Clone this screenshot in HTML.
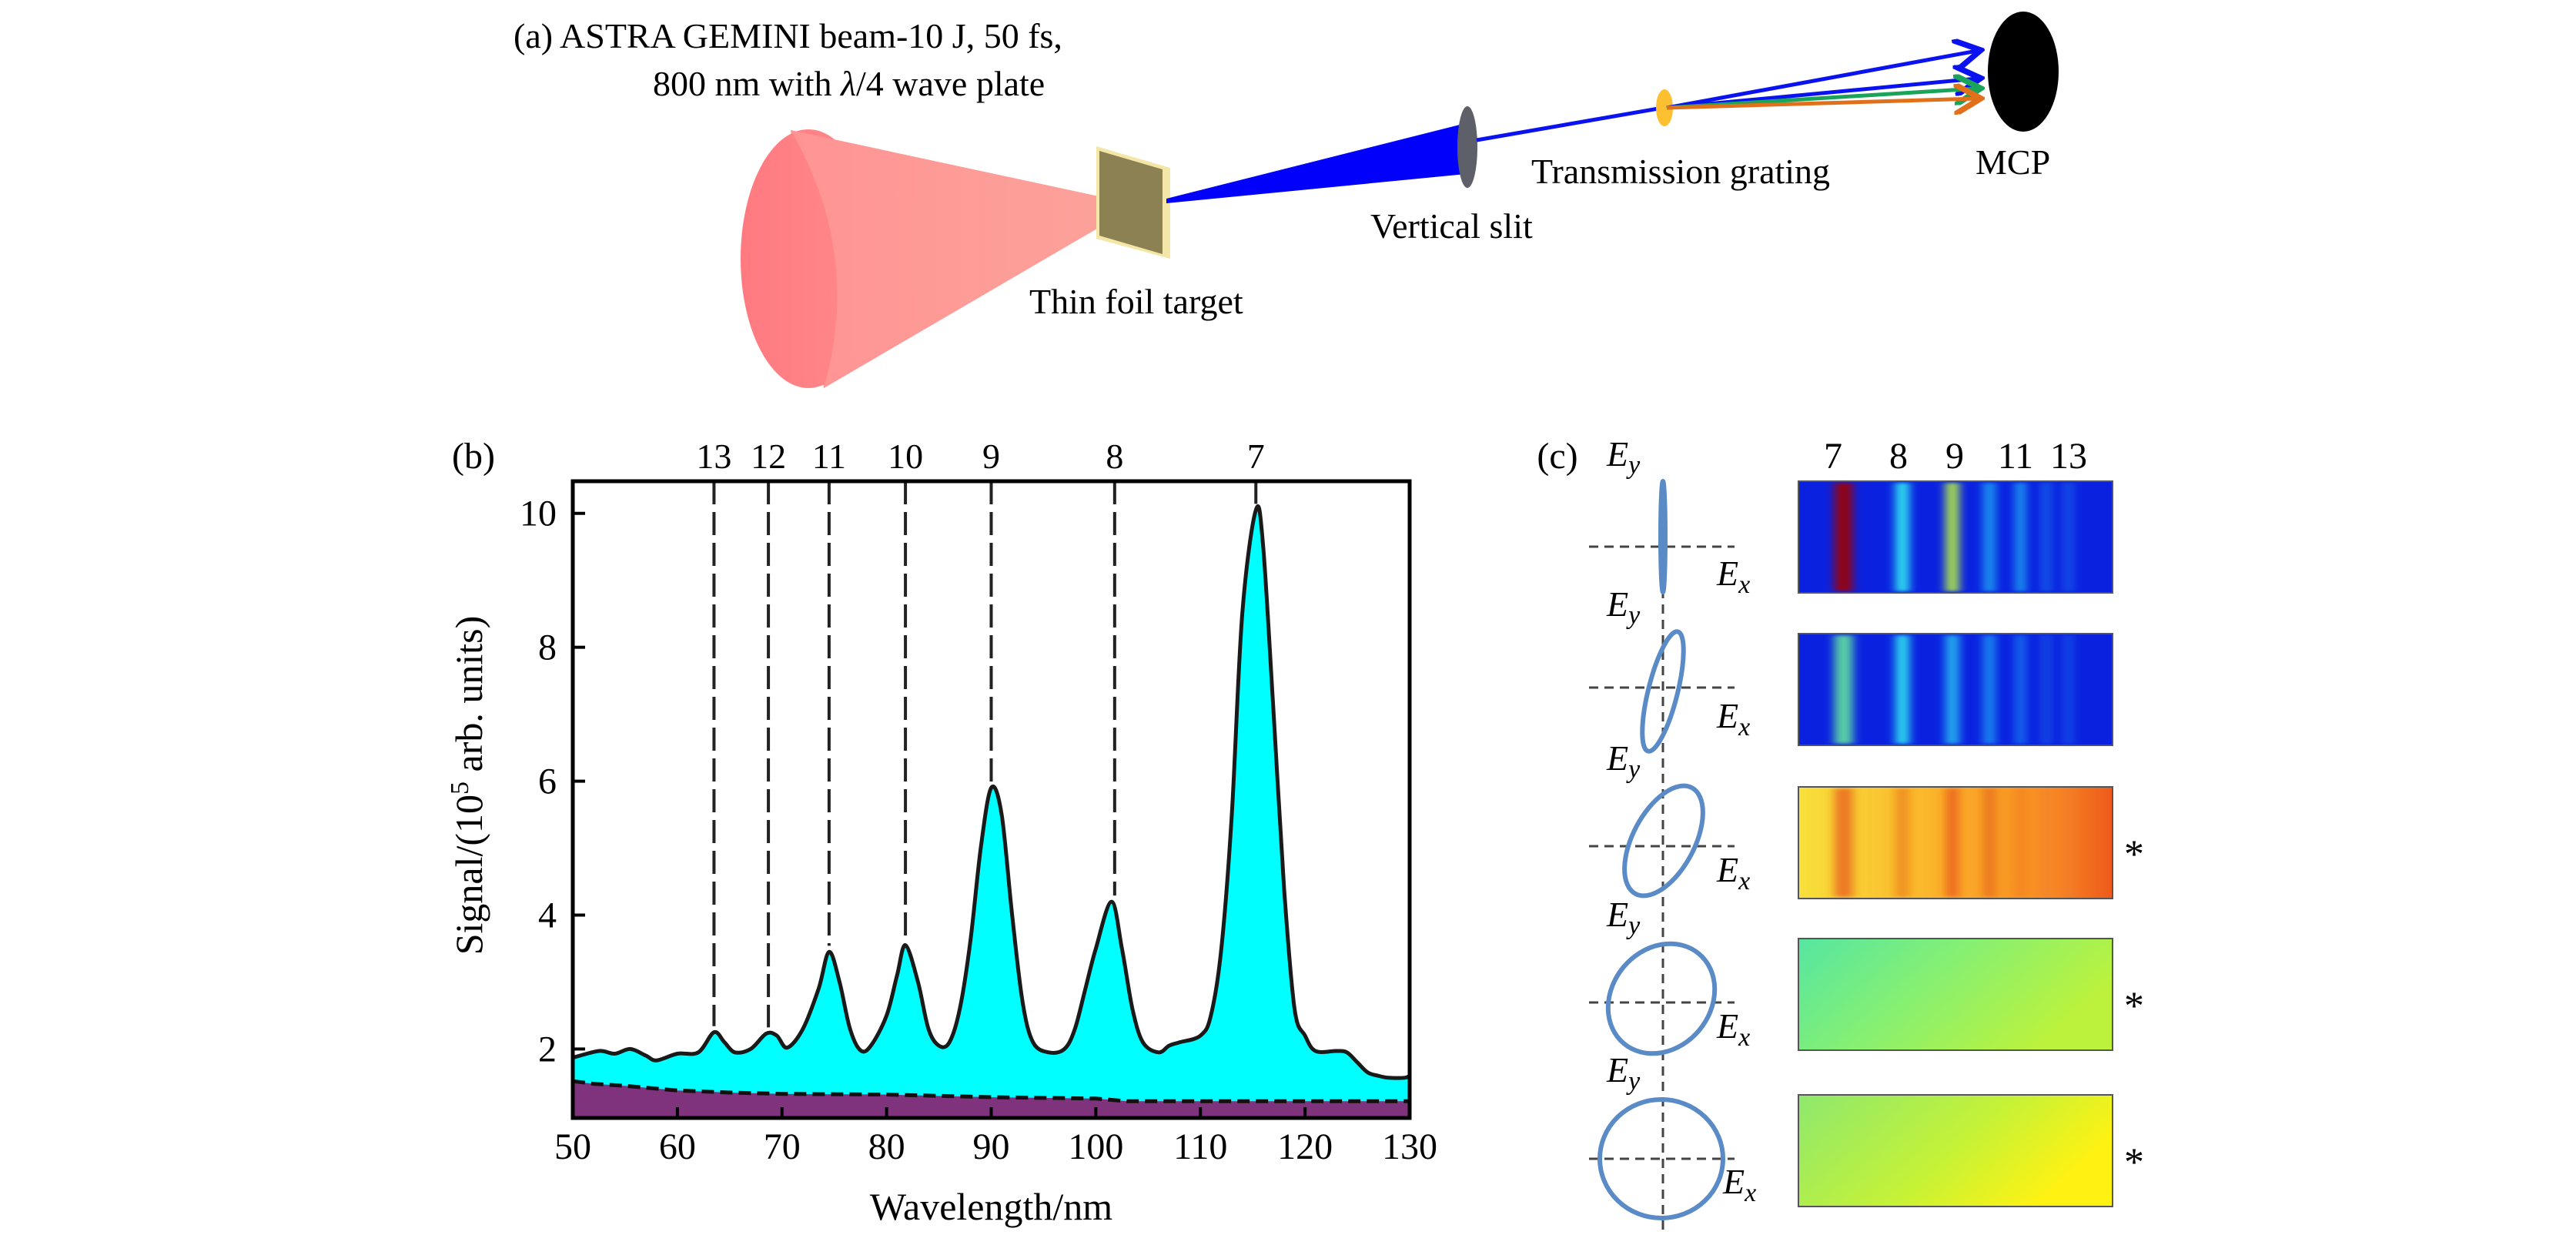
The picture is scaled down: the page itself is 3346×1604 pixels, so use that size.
<!DOCTYPE html>
<html><head><meta charset="utf-8">
<style>
html,body{margin:0;padding:0;background:#fff;}
svg{display:block;font-family:"Liberation Serif","DejaVu Serif",serif;}
</style></head>
<body>
<svg id="fig" width="3346" height="1604" viewBox="0 0 3346 1604" xmlns="http://www.w3.org/2000/svg">
<defs>
<linearGradient id="coneL" x1="0" x2="1" y1="0" y2="0"><stop offset="0" stop-color="#ff7a80"/><stop offset="1" stop-color="#ff8a8c"/></linearGradient>
<linearGradient id="coneR" x1="0" x2="1" y1="0" y2="0"><stop offset="0" stop-color="#ff9494"/><stop offset="1" stop-color="#fca39a"/></linearGradient>
<linearGradient id="g3" x1="0" x2="1"><stop offset="0" stop-color="#f8e03a"/><stop offset="0.45" stop-color="#fbb22a"/><stop offset="0.8" stop-color="#f88a22"/><stop offset="1" stop-color="#ee5a1c"/></linearGradient>
<linearGradient id="g4" x1="0" x2="1" y1="0" y2="0.4"><stop offset="0" stop-color="#55e6a2"/><stop offset="0.5" stop-color="#88f070"/><stop offset="1" stop-color="#bcf23c"/></linearGradient>
<linearGradient id="g5" x1="0" x2="1" y1="0" y2="0.4"><stop offset="0" stop-color="#8ee86e"/><stop offset="0.6" stop-color="#c6f236"/><stop offset="1" stop-color="#fff212"/></linearGradient>
<filter id="blurx" x="-0.1" y="-0.1" width="1.2" height="1.2"><feGaussianBlur stdDeviation="6 2"/></filter>
<marker id="arrB" markerWidth="8" markerHeight="8" refX="6" refY="4" orient="auto" markerUnits="strokeWidth"><path d="M0,0 L7,4 L0,8" fill="none" stroke="#0a12f0" stroke-width="1.5"/></marker>
<marker id="arrG" markerWidth="8" markerHeight="8" refX="6" refY="4" orient="auto" markerUnits="strokeWidth"><path d="M0,0 L7,4 L0,8" fill="none" stroke="#19a45a" stroke-width="1.5"/></marker>
<marker id="arrO" markerWidth="8" markerHeight="8" refX="6" refY="4" orient="auto" markerUnits="strokeWidth"><path d="M0,0 L7,4 L0,8" fill="none" stroke="#e0701a" stroke-width="1.5"/></marker>
</defs>

<!-- Panel (a) -->
<g>
  <text x="667" y="62" font-size="46">(a)  ASTRA GEMINI beam-10 J, 50 fs,</text>
  <text x="848" y="124" font-size="46">800 nm with <tspan font-style="italic">λ</tspan>/4 wave plate</text>
  <g>
    <polygon points="1027,169 1478,266 1070,504" fill="url(#coneR)"/>
    <ellipse cx="1050" cy="336" rx="88" ry="168" fill="url(#coneL)"/>
    <path d="M1027,169 Q1120,330 1070,504 L1478,266 Z" fill="url(#coneR)"/>
  </g>
  <g>
    <polygon points="1424,190 1520,218 1520,336 1424,310" fill="#f3e6a6"/>
    <polygon points="1428,196 1510,220 1510,330 1428,306" fill="#8c8152"/>
  </g>
  <polygon points="1515,258 1904,160 1904,226 1515,264" fill="#0000fb"/>
  <ellipse cx="1906" cy="191" rx="13" ry="53" fill="#5d6068"/>
  <line x1="1918" y1="182" x2="2160" y2="140" stroke="#0a12f0" stroke-width="5"/>
  <ellipse cx="2162" cy="140" rx="11" ry="24" fill="#fcc030"/>
  <line x1="2165" y1="140" x2="2568" y2="66" stroke="#0a12f0" stroke-width="5" marker-end="url(#arrB)"/>
  <line x1="2165" y1="140" x2="2568" y2="102" stroke="#0a12f0" stroke-width="5" marker-end="url(#arrB)"/>
  <line x1="2165" y1="140" x2="2568" y2="115" stroke="#19a45a" stroke-width="5" marker-end="url(#arrG)"/>
  <line x1="2165" y1="140" x2="2568" y2="128" stroke="#e0701a" stroke-width="5" marker-end="url(#arrO)"/>
  <ellipse cx="2628" cy="93" rx="46" ry="78" fill="#000"/>
  <text x="1989" y="238" font-size="46">Transmission grating</text>
  <text x="2566" y="226" font-size="46">MCP</text>
  <text x="1780" y="309" font-size="46">Vertical slit</text>
  <text x="1337" y="407" font-size="46">Thin foil target</text>
</g>

<!-- Panel (b) -->
<g id="chartB"></g>

<!-- Panel (c) -->
<g id="panelC"></g>
</svg>

<script>
// ---- Panel (b) data ----
const wavelengths = [50,52.5,54,55.5,57,58,60,62,63.5,64.5,65.5,67,68.5,69.5,70.5,72,73.5,74.5,75.5,76.5,77.5,78.5,80,81,81.8,83,84,85,86,87,88,89,90,91,92,93,94,95.5,97,98,99,100,101.5,102.5,103.5,104.5,106,107,108,110,111,112,113,114,115.3,116,117,118,119,120,121,123,124,125,126,127,128,129.5,130];
const signal = [1.87,1.97,1.93,2.0,1.9,1.83,1.93,1.95,2.25,2.1,1.95,2.0,2.23,2.2,2.02,2.3,2.9,3.45,3.0,2.3,1.98,2.05,2.5,3.1,3.55,3.0,2.3,2.05,2.1,2.6,3.6,5.0,5.9,5.5,4.0,2.7,2.1,1.95,2.0,2.3,2.9,3.5,4.2,3.5,2.6,2.1,1.95,2.05,2.1,2.2,2.5,3.5,5.5,8.5,10.05,9.5,7.0,4.4,2.6,2.2,1.97,1.97,1.95,1.8,1.65,1.6,1.57,1.57,1.6];
const bgWavelengths = [50,52,55,60,65,70,80,90,100,103,110,120,130];
const background = [1.52,1.48,1.45,1.38,1.35,1.33,1.32,1.28,1.26,1.22,1.22,1.22,1.22];
const harmonicPos = [63.5,68.7,74.5,81.8,90.0,101.8,115.3];
const harmonicPeak = [2.25,2.23,3.45,3.55,5.9,4.2,10.05];
const harmonicLabels = ["13","12","11","10","9","8","7"];
const xTicks = [50,60,70,80,90,100,110,120,130];
const yTicks = [2,4,6,8,10];

const NS="http://www.w3.org/2000/svg";
function mk(tag, attrs, parent){const e=document.createElementNS(NS,tag);for(const k in attrs)e.setAttribute(k,attrs[k]);parent.appendChild(e);return e;}
const PL=744, PR=1831, PT=625, PB=1452;
const XMIN=50, XMAX=130, YMIN=0.97, YMAX=10.48;
function sx(v){return PL+(v-XMIN)/(XMAX-XMIN)*(PR-PL);}
function sy(v){return PB-(v-YMIN)/(YMAX-YMIN)*(PB-PT);}
function smoothPath(xs, ys){
  const p=xs.map((x,i)=>[sx(x),sy(ys[i])]);
  let s='M'+p[0][0].toFixed(1)+','+p[0][1].toFixed(1);
  for(let i=0;i<p.length-1;i++){
    const p0=p[Math.max(0,i-1)],p1=p[i],p2=p[i+1],p3=p[Math.min(p.length-1,i+2)];
    const c1=[p1[0]+(p2[0]-p0[0])/6,p1[1]+(p2[1]-p0[1])/6];
    const c2=[p2[0]-(p3[0]-p1[0])/6,p2[1]-(p3[1]-p1[1])/6];
    s+=' C'+c1[0].toFixed(1)+','+c1[1].toFixed(1)+' '+c2[0].toFixed(1)+','+c2[1].toFixed(1)+' '+p2[0].toFixed(1)+','+p2[1].toFixed(1);
  }
  return s;
}
const gB=document.getElementById('chartB');

const sigPath=smoothPath(wavelengths,signal);
const area=mk('path',{d:sigPath+' L'+sx(wavelengths[wavelengths.length-1])+','+sy(YMIN)+' L'+sx(wavelengths[0])+','+sy(YMIN)+' Z',fill:'#00ffff'},gB);



let bd='M'+sx(bgWavelengths[0])+','+sy(YMIN);
bgWavelengths.forEach((w,i)=>{bd+=' L'+sx(w).toFixed(1)+','+sy(background[i]).toFixed(1);});
bd+=' L'+sx(bgWavelengths[bgWavelengths.length-1])+','+sy(YMIN)+' Z';
const bga=mk('path',{d:bd,fill:'#7f337c'},gB);



let bl='';
bgWavelengths.forEach((w,i)=>{bl+=(i?' L':'M')+sx(w).toFixed(1)+','+sy(background[i]).toFixed(1);});
const bgl=mk('path',{d:bl,fill:'none',stroke:'#111','stroke-width':5,'stroke-dasharray':'16,8'},gB);



const sigl=mk('path',{d:sigPath,fill:'none',stroke:'#1a1a1a','stroke-width':5,'stroke-linejoin':'round'},gB);



harmonicPos.forEach((h,i)=>{
  const ln=mk('line',{x1:sx(h),x2:sx(h),y1:PT,y2:sy(harmonicPeak[i])-8,stroke:'#222','stroke-width':4,'stroke-dasharray':'30,10'},gB);
  
  
  const t=mk('text',{x:sx(h),y:608,'font-size':46,'text-anchor':'middle'},gB);
  t.textContent=harmonicLabels[i];
  
  
});

const frame=mk('rect',{x:PL,y:PT,width:PR-PL,height:PB-PT,fill:'none',stroke:'#000','stroke-width':5},gB);



xTicks.forEach(v=>{
  const tk=mk('line',{x1:sx(v),x2:sx(v),y1:PB,y2:PB-14,stroke:'#000','stroke-width':4},gB);
  
  
  const t=mk('text',{x:sx(v),y:1505,'font-size':48,'text-anchor':'middle'},gB);
  t.textContent=v;
  
  
});
yTicks.forEach(v=>{
  const tk=mk('line',{x1:PL,x2:PL+16,y1:sy(v),y2:sy(v),stroke:'#000','stroke-width':4},gB);
  
  
  const t=mk('text',{x:723,y:sy(v)+16,'font-size':48,'text-anchor':'end'},gB);
  t.textContent=v;
  
  
});
const xl=mk('text',{x:(PL+PR)/2,y:1584,'font-size':50,'text-anchor':'middle'},gB);
xl.textContent='Wavelength/nm';


const yl=mk('text',{x:0,y:0,'font-size':50,'text-anchor':'middle',transform:'translate(626,1020) rotate(-90)'},gB);
yl.innerHTML='Signal/(10<tspan dy="-18" font-size="34">5</tspan><tspan dy="18"> arb. units)</tspan>';


const pb=mk('text',{x:615,y:608,'font-size':48,'text-anchor':'middle'},gB);
pb.textContent='(b)';



// ---- Panel (c) ----
const gC=document.getElementById('panelC');
const IL=2336, IR=2744;
const rowTop=[625,823,1022,1219,1422];
const rowH=145;
const axisY=[710,893,1099,1302,1505];
const stripeFrac=[0.144,0.331,0.49,0.608,0.707,0.789,0.859];
const colLabels=["7","8","9","11","13"];
const colLabelX=[2381,2466,2539,2618,2687];

const pc=mk('text',{x:2023,y:608,'font-size':48,'text-anchor':'middle'},gC);
pc.textContent='(c)';


colLabels.forEach((l,i)=>{
  const t=mk('text',{x:colLabelX[i],y:608,'font-size':48,'text-anchor':'middle'},gC);
  t.textContent=l;
  
  
});

const AX=2160;
const vax=mk('line',{x1:AX,x2:AX,y1:625,y2:1600,stroke:'#444','stroke-width':3,'stroke-dasharray':'12,8'},gC);


const eyY=[605,800,1000,1203,1405];
const exY=[760,945,1145,1348,1550];
axisY.forEach((y,i)=>{
  const h=mk('line',{x1:2064,x2:2253,y1:y,y2:y,stroke:'#444','stroke-width':3,'stroke-dasharray':'12,8'},gC);
  
  
  const ey=mk('text',{x:2087,y:eyY[i],'font-size':46,'font-style':'italic'},gC);
  ey.innerHTML='E<tspan dy="10" font-size="34">y</tspan>';
  
  
  const ex=mk('text',{x:i==4?2238:2230,y:exY[i],'font-size':46,'font-style':'italic'},gC);
  ex.innerHTML='E<tspan dy="10" font-size="34">x</tspan>';
  
  
});
const pol=[
  {cx:2160,cy:697,rx:3,ry:72,rot:0},
  {cx:2160,cy:898,rx:19,ry:80,rot:14},
  {cx:2161,cy:1092,rx:40,ry:78,rot:28},
  {cx:2158,cy:1297,rx:64,ry:76,rot:40},
  {cx:2158,cy:1505,rx:80,ry:77,rot:0}
];
pol.forEach((p,i)=>{
  const e=mk('ellipse',{cx:p.cx,cy:p.cy,rx:p.rx,ry:p.ry,fill:i==0?'#4a7fc0':'none',stroke:'#5b8bc6','stroke-width':6,transform:'rotate('+p.rot+' '+p.cx+' '+p.cy+')'},gC);
  
  
});

const bases=['#0a22e0','#0a22e0','url(#g3)','url(#g4)','url(#g5)'];
const stripeColors=[
  ['#a00000','#30f0f0','#b8f040','#20a0f0','#1ca0f0','#1a60e8','#1656e8'],
  ['#60e0a0','#30e8f0','#2ab8f0','#2090f0','#1a70ec','#1550e6','#1450e6'],
  ['#e23010','#e86a18','#e23c10','#e05810','#f07a20','#f08030','#f08030'],
  [],[]
];
const stripeW=[24,18,18,16,14,12,12];
rowTop.forEach((y,r)=>{
  const g=mk('g',{},gC);
  
  
  mk('rect',{x:IL,y:y,width:IR-IL,height:rowH,fill:bases[r]},g);
  const sg=mk('g',{filter:'url(#blurx)'},g);
  stripeColors[r].forEach((c,k)=>{
    const cx=IL+stripeFrac[k]*(IR-IL);
    mk('rect',{x:cx-stripeW[k]/2,y:y+2,width:stripeW[k],height:rowH-4,fill:c,opacity:r==2?0.55:0.9},sg);
  });
  mk('rect',{x:IL,y:y,width:IR-IL,height:rowH,fill:'none',stroke:'#555','stroke-width':2},g);
  if(r>=2){
    const st=mk('text',{x:2772,y:y+rowH/2+32,'font-size':52,'text-anchor':'middle'},gC);
    st.textContent='*';
    
    
  }
});
</script>
</body></html>
